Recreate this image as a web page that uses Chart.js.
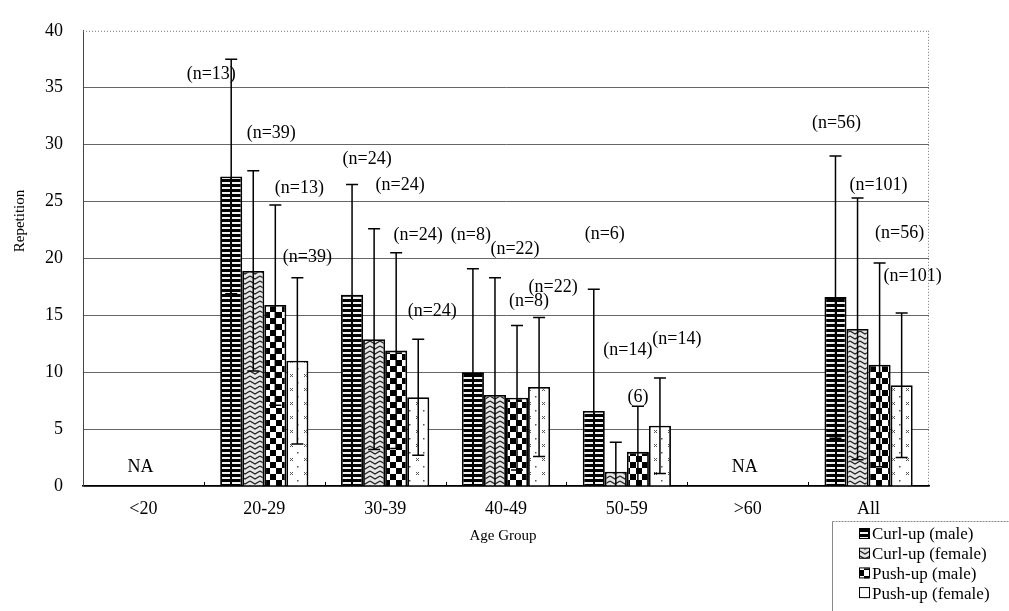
<!DOCTYPE html>
<html>
<head>
<meta charset="utf-8">
<script src="https://cdn.jsdelivr.net/npm/chart.js@4.4.0/dist/chart.umd.min.js"></script>
<style>
  html, body { margin: 0; padding: 0; background: #fff; }
  canvas { display: block; }
</style>
</head>
<body>
<canvas id="chart" width="1009" height="611"></canvas>
<script>
// === Data ===
var categories = ['<20', '20-29', '30-39', '40-49', '50-59', '>60', 'All'];
var seriesNames = ['Curl-up (male)', 'Curl-up (female)', 'Push-up (male)', 'Push-up (female)'];

var curlMale     = [0, 27.2, 16.8, 10.0, 6.6, 0, 16.6];
var curlMaleSD   = [0, 10.3, 9.7, 9.1, 10.7, 0, 12.4];
var curlFemale   = [0, 18.9, 12.9, 8.0, 1.25, 0, 13.8];
var curlFemaleSD = [0, 8.8, 9.7, 10.3, 2.6, 0, 11.5];
var pushMale     = [0, 15.9, 11.9, 7.75, 3.0, 0, 10.65];
var pushMaleSD   = [0, 8.8, 8.6, 6.35, 4.0, 0, 8.95];
var pushFemale   = [0, 11.0, 7.8, 8.7, 5.3, 0, 8.85];
var pushFemaleSD = [0, 7.3, 5.1, 6.1, 4.2, 0, 6.35];

var curlMaleN   = ['', '(n=13)', '(n=24)', '(n=8)', '(n=6)', '', '(n=56)'];
var curlFemaleN = ['', '(n=39)', '(n=24)', '(n=22)', '(n=14)', '', '(n=101)'];
var pushMaleN   = ['', '(n=13)', '(n=24)', '(n=8)', '(6)', '', '(n=56)'];
var pushFemaleN = ['', '(n=39)', '(n=24)', '(n=22)', '(n=14)', '', '(n=101)'];
var naCategories = ['<20', '>60'];

var yTicks = [0, 5, 10, 15, 20, 25, 30, 35, 40];

// label nudges (px) from bar centre / error-bar top, like hand-moved Excel labels
var labelNudge = [
    [null, [-20, 15], [15, -25], [-2, -33], [11, -55], null, [1, -33]],
    [null, [18, -38], [26, -44], [20, -28], [12, -92], null, [21, -13]],
    [null, [24, -17], [22, -17], [12, -24], [0, -9], null, [20, -30]],
    [null, [10, -20], [14, -28], [14, -30], [17, -39], null, [11, -37]]
];

var SERIF = '"Liberation Serif", "Times New Roman", serif';

// === Fill patterns ===
function makeTile(w, h, paint) {
    var c = document.createElement('canvas');
    c.width = w; c.height = h;
    var g = c.getContext('2d');
    paint(g);
    return document.getElementById('chart').getContext('2d').createPattern(c, 'repeat');
}

var stripePattern = makeTile(11, 5, function(g) {
    g.fillStyle = '#000'; g.fillRect(0, 0, 11, 5);
    g.fillStyle = '#f2f2f2'; g.fillRect(1, 2, 9, 2);
});
var zigzagPattern = makeTile(10, 5, function(g) {
    g.fillStyle = '#e6e6e6'; g.fillRect(0, 0, 10, 5);
    g.strokeStyle = '#222'; g.lineWidth = 1.3;
    g.beginPath(); g.moveTo(0, 1); g.lineTo(5, 4); g.lineTo(10, 1); g.stroke();
});
var checkerPattern = makeTile(12, 12, function(g) {
    g.fillStyle = '#fff'; g.fillRect(0, 0, 12, 12);
    g.fillStyle = '#000'; g.fillRect(0, 0, 6, 6); g.fillRect(6, 6, 6, 6);
});
var dotPattern = makeTile(14, 14, function(g) {
    g.fillStyle = '#fff'; g.fillRect(0, 0, 14, 14);
    g.fillStyle = '#555';
    g.fillRect(3, 4, 1.5, 1.5);
    g.fillRect(10, 10, 1, 1); g.fillRect(11, 11, 1, 1); g.fillRect(12, 10, 1, 1); g.fillRect(10, 12, 1, 1); g.fillRect(12, 12, 1, 1);
});

var patterns = [stripePattern, zigzagPattern, checkerPattern, dotPattern];
var values = [curlMale, curlFemale, pushMale, pushFemale];
var sds = [curlMaleSD, curlFemaleSD, pushMaleSD, pushFemaleSD];
var nLabels = [curlMaleN, curlFemaleN, pushMaleN, pushFemaleN];

// === Plugin: error bars, n labels, NA, legend, frame, axis titles ===
var extrasPlugin = {
    id: 'extras',
    afterDatasetsDraw: function(chart) {
        var ctx = chart.ctx;
        var y = chart.scales.y, x = chart.scales.x;
        var area = chart.chartArea;
        ctx.save();

        // error bars
        ctx.strokeStyle = '#000';
        ctx.lineWidth = 1.5;
        chart.data.datasets.forEach(function(ds, di) {
            var meta = chart.getDatasetMeta(di);
            meta.data.forEach(function(bar, i) {
                var v = values[di][i], sd = sds[di][i];
                if (!sd) return;
                var top = y.getPixelForValue(v + sd);
                var lowV = v - sd;
                var bottom = y.getPixelForValue(Math.max(0, lowV));
                ctx.beginPath();
                ctx.moveTo(bar.x, top); ctx.lineTo(bar.x, bottom);
                ctx.moveTo(bar.x - 6, top); ctx.lineTo(bar.x + 6, top);
                if (lowV > 0) { ctx.moveTo(bar.x - 6, bottom); ctx.lineTo(bar.x + 6, bottom); }
                ctx.stroke();
            });
        });

        // n labels
        ctx.fillStyle = '#000';
        ctx.font = '18px ' + SERIF;
        ctx.textAlign = 'center';
        ctx.textBaseline = 'middle';
        chart.data.datasets.forEach(function(ds, di) {
            var meta = chart.getDatasetMeta(di);
            meta.data.forEach(function(bar, i) {
                var txt = nLabels[di][i];
                var nudge = labelNudge[di][i];
                if (!txt || !nudge) return;
                var top = y.getPixelForValue(values[di][i] + sds[di][i]);
                ctx.fillText(txt, bar.x + nudge[0], top + nudge[1]);
            });
        });

        // NA markers
        naCategories.forEach(function(cat) {
            var i = categories.indexOf(cat);
            ctx.fillText('NA', x.getPixelForValue(i) - 3, y.getPixelForValue(0) - 19);
        });

        // dotted top/right frame
        ctx.strokeStyle = '#777';
        ctx.lineWidth = 1;
        ctx.setLineDash([1, 2]);
        ctx.beginPath();
        ctx.moveTo(area.left, area.top + 0.5); ctx.lineTo(area.right, area.top + 0.5);
        ctx.moveTo(area.right - 0.5, area.top); ctx.lineTo(area.right - 0.5, area.bottom);
        ctx.stroke();
        ctx.setLineDash([]);

        // small tick marks between groups
        ctx.strokeStyle = '#000';
        ctx.beginPath();
        for (var k = 1; k < categories.length; k++) {
            var tx = Math.round((x.getPixelForValue(k - 1) + x.getPixelForValue(k)) / 2) + 0.5;
            ctx.moveTo(tx, area.bottom); ctx.lineTo(tx, area.bottom - 4);
        }
        ctx.stroke();

        // axis titles
        ctx.fillStyle = '#000';
        ctx.font = '15px ' + SERIF;
        ctx.fillText('Age Group', (area.left + area.right) / 2 - 3, 536);
        ctx.save();
        ctx.translate(20, 221);
        ctx.rotate(-Math.PI / 2);
        ctx.font = '15px ' + SERIF;
        ctx.fillText('Repetition', 0, 0);
        ctx.restore();

        // legend box
        ctx.strokeStyle = '#888';
        ctx.lineWidth = 1;
        ctx.setLineDash([2, 1]);
        ctx.beginPath();
        ctx.moveTo(832.5, 521.5); ctx.lineTo(1009, 521.5);
        ctx.stroke();
        ctx.setLineDash([]);
        ctx.beginPath();
        ctx.moveTo(832.5, 521.5); ctx.lineTo(832.5, 611);
        ctx.stroke();

        ctx.font = '17px ' + SERIF;
        ctx.textAlign = 'left';
        ctx.textBaseline = 'middle';
        seriesNames.forEach(function(name, si) {
            var rowY = 534 + si * 19.7;
            ctx.fillStyle = patterns[si];
            ctx.fillRect(859, rowY - 5, 10, 10);
            ctx.strokeStyle = '#000';
            ctx.lineWidth = 1;
            ctx.strokeRect(859.5, rowY - 5.5, 10, 10);
            ctx.fillStyle = '#000';
            ctx.fillText(name, 872, rowY + 1);
        });

        ctx.restore();
    }
};

var datasets = seriesNames.map(function(name, si) {
    return {
        label: name,
        data: values[si],
        backgroundColor: patterns[si],
        borderColor: '#000',
        borderWidth: 1.8,
        categoryPercentage: 0.73,
        barPercentage: 1.0
    };
});

new Chart(document.getElementById('chart').getContext('2d'), {
    type: 'bar',
    data: { labels: categories, datasets: datasets },
    options: {
        responsive: false,
        animation: false,
        layout: { padding: { left: 0, right: 80, top: 25, bottom: 0 } },
        plugins: {
            legend: { display: false },
            tooltip: { enabled: false }
        },
        scales: {
            x: {
                afterFit: function(scale) { scale.height = 125; },
                grid: { display: false },
                border: { display: true, color: '#000', width: 1.5 },
                ticks: {
                    color: '#000',
                    padding: 4,
                    font: { family: SERIF, size: 18 }
                }
            },
            y: {
                min: 0,
                max: 40,
                afterFit: function(scale) { scale.width = 83; },
                afterBuildTicks: function(scale) {
                    scale.ticks = yTicks.map(function(v) { return { value: v }; });
                },
                grid: {
                    drawTicks: false,
                    color: function(c) { return c.tick && c.tick.value === 40 ? 'rgba(0,0,0,0)' : '#666'; },
                    lineWidth: 1
                },
                border: { display: true, color: '#444', width: 1 },
                ticks: {
                    color: '#000',
                    padding: 20,
                    font: { family: SERIF, size: 18 }
                }
            }
        }
    },
    plugins: [extrasPlugin]
});
</script>
</body>
</html>
